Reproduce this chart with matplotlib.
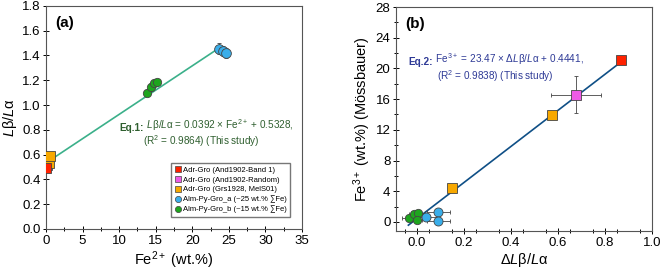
import numpy as np
import matplotlib
matplotlib.use('Agg')
import matplotlib.pyplot as plt
from matplotlib.lines import Line2D

plt.rcParams['font.family'] = ['Liberation Sans', 'DejaVu Sans']
plt.rcParams['mathtext.fontset'] = 'custom'
plt.rcParams['mathtext.rm'] = 'Liberation Sans'
plt.rcParams['mathtext.it'] = 'Liberation Sans:italic'
plt.rcParams['mathtext.bf'] = 'Liberation Sans:bold'

# panel (a): Fe2+ vs Lb/La
a_red_x, a_red_y = [0.0], [0.49]
a_mag_x, a_mag_y = [0.1], [0.52]
a_ora_x, a_ora_y = [0.4, 0.5], [0.53, 0.59]
a_blu_x, a_blu_y, a_blu_err = [23.6, 24.2, 24.6], [1.455, 1.435, 1.42], [0.045, 0.04, 0.04]
a_grn_x, a_grn_y, a_grn_err = [13.8, 14.3, 14.8, 15.2], [1.10, 1.145, 1.18, 1.19], [0.02, 0.03, 0.02, 0.02]
eq1_slope, eq1_icpt = 0.0392, 0.5328
eq1_range = [0.3, 23.6]

# panel (b): dLb/La vs Fe3+
b_red_x, b_red_y = [0.868], [21.1]
b_mag_x, b_mag_y, b_mag_xerr, b_mag_yerr = [0.677], [16.6], [0.105], [2.35]
b_ora_x, b_ora_y, b_ora_xerr = [0.573, 0.150], [13.9, 4.4], [0.0, 0.02]
b_blu_x, b_blu_y, b_blu_xerr = [0.037, 0.091, 0.091], [0.7, 1.26, 0.17], [0.05, 0.05, 0.05]
b_grn_x, b_grn_y, b_grn_xerr = [-0.033, -0.013, 0.003, -0.001], [0.5, 1.0, 1.13, 0.2], [0.03, 0.02, 0.03, 0.02]
eq2_slope, eq2_icpt = 23.47, 0.4441
eq2_range = [-0.037, 0.87]

legend_labels = ['Adr-Gro (And1902-Band 1)', 'Adr-Gro (And1902-Random)',
                 'Adr-Gro (Grs1928, MelS01)', 'Alm-Py-Gro_a (~25 wt.% \u2211Fe)',
                 'Alm-Py-Gro_b (~15 wt.% \u2211Fe)']

c_red = '#ff2200'
c_mag = '#ee5ae6'
c_ora = '#f7a800'
c_blu = '#3aaeea'
c_grn = '#1ea51e'
ec = '#444444'

fig = plt.figure(figsize=(6.61, 2.70), dpi=100)
ax1 = fig.add_axes([0.0696, 0.152, 0.3873, 0.826])
ax2 = fig.add_axes([0.599, 0.144, 0.387, 0.830])


def eq_text(ax, x, y, bold, rest, color, fs=7.2):
    t = ax.text(x, y, bold, transform=ax.transAxes, fontsize=fs, fontweight='bold',
                color=color, va='baseline', ha='left')
    ax.annotate(' ' + rest, xy=(1, 0), xycoords=t, fontsize=fs, color=color,
                va='bottom', ha='left')


# ---- (a)
xl = np.array(eq1_range)
ax1.plot(xl, eq1_slope * xl + eq1_icpt, color='#3bb08a', lw=1.2, zorder=2)
ax1.errorbar(a_grn_x, a_grn_y, yerr=a_grn_err, fmt='o', ms=6, mfc=c_grn, mec=ec, mew=0.6,
             ecolor=ec, elinewidth=0.6, capsize=1.5, zorder=3)
ax1.errorbar(a_blu_x, a_blu_y, yerr=a_blu_err, fmt='o', ms=7, mfc=c_blu, mec=ec, mew=0.6,
             ecolor=ec, elinewidth=0.6, capsize=1.5, zorder=3)
ax1.plot(a_mag_x, a_mag_y, 's', ms=7, mfc=c_mag, mec=ec, mew=0.6, zorder=3)
ax1.plot(a_ora_x, a_ora_y, 's', ms=7, mfc=c_ora, mec=ec, mew=0.6, zorder=3)
ax1.plot(a_red_x, a_red_y, 's', ms=7, mfc=c_red, mec=ec, mew=0.6, zorder=4)

ax1.set_xlim(0, 35)
ax1.set_ylim(0, 1.8)
ax1.set_xticks(np.arange(0, 36, 5))
ax1.set_xticks(np.arange(0, 35.1, 2.5), minor=True)
ax1.set_yticks(np.arange(0, 1.81, 0.2))
ax1.set_yticklabels([f'{v:.1f}' for v in np.arange(0, 1.81, 0.2)])
ax1.set_xlabel('Fe$^{2+}$ (wt.%)', fontsize=10.5, labelpad=2)
ax1.set_ylabel('$L$\u03b2/$L$\u03b1', fontsize=10.5, labelpad=2)
ax1.text(0.035, 0.955, '(a)', transform=ax1.transAxes, fontsize=11, fontweight='bold', va='top')
eqc = '#2f5f2f'
eq_text(ax1, 0.287, 0.44, 'Eq.1:', '$L$\u03b2/$L$\u03b1 = 0.0392 \u00d7 Fe$^{2+}$ + 0.5328,', eqc)
ax1.text(0.605, 0.375, '(R$^2$ = 0.9864) (This study)', transform=ax1.transAxes,
         fontsize=7.2, color=eqc, va='baseline', ha='center')

handles = [Line2D([], [], ls='', marker='s', ms=4.5, mfc=c_red, mec=ec, mew=0.5),
           Line2D([], [], ls='', marker='s', ms=4.5, mfc=c_mag, mec=ec, mew=0.5),
           Line2D([], [], ls='', marker='s', ms=4.5, mfc=c_ora, mec=ec, mew=0.5),
           Line2D([], [], ls='', marker='o', ms=4.5, mfc=c_blu, mec=ec, mew=0.5),
           Line2D([], [], ls='', marker='o', ms=4.5, mfc=c_grn, mec=ec, mew=0.5)]
ax1.legend(handles, legend_labels, loc='lower right', bbox_to_anchor=(0.955, 0.055),
           fontsize=5.5, frameon=True, fancybox=False, edgecolor='#555555',
           handletextpad=0.3, labelspacing=0.3, borderpad=0.45, handlelength=0.8,
           borderaxespad=0)

# ---- (b)
xl = np.array(eq2_range)
ax2.plot(xl, eq2_slope * xl + eq2_icpt, color='#0f4f86', lw=1.2, zorder=2)
ax2.errorbar(b_grn_x, b_grn_y, xerr=b_grn_xerr, fmt='o', ms=6, mfc=c_grn, mec=ec, mew=0.6,
             ecolor=ec, elinewidth=0.6, capsize=1.5, zorder=3)
ax2.errorbar(b_blu_x, b_blu_y, xerr=b_blu_xerr, fmt='o', ms=6.5, mfc=c_blu, mec=ec, mew=0.6,
             ecolor=ec, elinewidth=0.6, capsize=1.5, zorder=3)
ax2.errorbar(b_ora_x, b_ora_y, xerr=b_ora_xerr, fmt='s', ms=6.5, mfc=c_ora, mec=ec, mew=0.6,
             ecolor=ec, elinewidth=0.6, capsize=1.5, zorder=3)
ax2.errorbar(b_mag_x, b_mag_y, xerr=b_mag_xerr, yerr=b_mag_yerr, fmt='s', ms=6.5, mfc=c_mag,
             mec=ec, mew=0.6, ecolor=ec, elinewidth=0.6, capsize=1.5, zorder=3)
ax2.plot(b_red_x, b_red_y, 's', ms=6.5, mfc=c_red, mec=ec, mew=0.6, zorder=3)

ax2.set_xlim(-0.09, 1.0)
ax2.set_ylim(-1.2, 28)
ax2.set_xticks(np.arange(0, 1.01, 0.2))
ax2.set_xticks(np.arange(-0.05, 1.0, 0.1), minor=True)
ax2.set_xticklabels([f'{v:.1f}' for v in np.arange(0, 1.01, 0.2)])
ax2.set_yticks(np.arange(0, 29, 4))
ax2.set_yticks(np.arange(0, 29, 2), minor=True)
ax2.set_xlabel('\u0394$L$\u03b2/$L$\u03b1', fontsize=10.5, labelpad=2)
ax2.set_ylabel('Fe$^{3+}$ (wt.%) (M\u00f6ssbauer)', fontsize=10.5, labelpad=2)
ax2.text(0.035, 0.955, '(b)', transform=ax2.transAxes, fontsize=11, fontweight='bold', va='top')
eqb = '#2e3a96'
eq_text(ax2, 0.05, 0.74, 'Eq.2:', 'Fe$^{3+}$ = 23.47 \u00d7 \u0394$L$\u03b2/$L$\u03b1 + 0.4441,', eqb)
ax2.text(0.16, 0.675, '(R$^2$ = 0.9838) (This study)', transform=ax2.transAxes,
         fontsize=7.2, color=eqb, va='baseline', ha='left')

for ax in (ax1, ax2):
    ax.tick_params(which='both', direction='inout', labelsize=9.5, width=0.7, pad=2)
    ax.tick_params(which='major', length=4)
    ax.tick_params(which='minor', length=2.5)
    for s in ax.spines.values():
        s.set_linewidth(0.8)
        s.set_color('#555555')

fig.savefig('out.png', dpi=100)
